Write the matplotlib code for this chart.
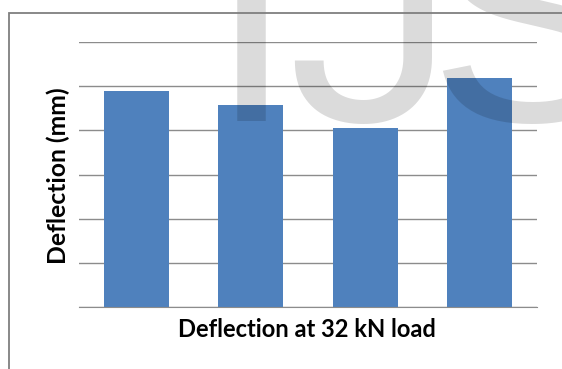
import matplotlib
matplotlib.use("Agg")
import matplotlib.pyplot as plt
from matplotlib.patches import Rectangle

# data (units of grid step, axis has no labels)
samples = ["S1", "S2", "S3", "S4"]
deflection = [4.9, 4.58, 4.06, 5.19]

plt.rcParams['font.family'] = ['Lato', 'DejaVu Sans']

fig = plt.figure(figsize=(5.62, 3.69), dpi=100)
ax = fig.add_axes([0.1406, 0.168, 0.8149, 0.718])

ax.bar(range(len(samples)), deflection, width=0.57, color='#4f81bd', zorder=2)
ax.set_xlim(-0.5, len(samples) - 0.5)
ax.set_ylim(0, 6)
ax.set_yticks(range(0, 7))
ax.grid(axis='y', color='#8c8c8c', linewidth=1, zorder=0)
ax.set_xticks([])
ax.tick_params(left=False, labelleft=False)
for s in ['top', 'right', 'left']:
    ax.spines[s].set_visible(False)
ax.spines['bottom'].set_color('#8c8c8c')

ylab = fig.text(0.104, 0.523, "Deflection (mm)", rotation=90, ha='center', va='center',
                fontsize=14, fontweight='bold')
xlab = fig.text(0.546, 1 - 337 / 369, "Deflection at 32 kN load", ha='center', va='baseline',
                fontsize=14, fontweight='bold')

# scale the label fonts so they span the same length as in the picture
fig.canvas.draw()
r = fig.canvas.get_renderer()
ylab.set_fontsize(14 * 178 / ylab.get_window_extent(r).height)
xlab.set_fontsize(14 * 260 / xlab.get_window_extent(r).width)

# watermark
for ch, x, fam in [("I", 209, 'Liberation Sans'), ("J", 286, 'Roboto'),
                   ("S", 428, 'Liberation Sans')]:
    fig.text(x / 562, 1 - 121 / 369, ch, fontsize=220, color='black', alpha=0.14,
             ha='left', va='baseline', family=fam, zorder=5)

# chart frame
fig.patches.append(Rectangle((9 / 562, -0.05), 1.2, 1 - 13 / 369 + 0.05,
                             transform=fig.transFigure, fill=False, zorder=6,
                             edgecolor='#7f7f7f', linewidth=1.3, clip_on=False))

fig.savefig("out.png", dpi=100)
